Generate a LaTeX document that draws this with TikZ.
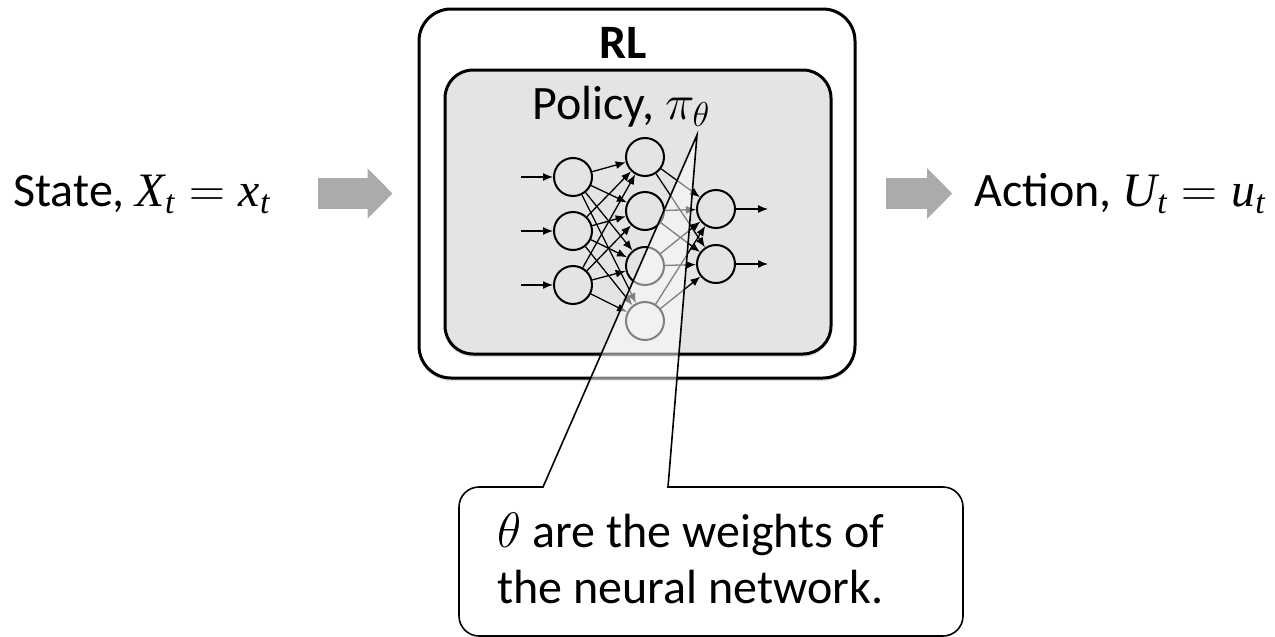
\documentclass[tikz,border=0pt]{standalone}
\usepackage{amsmath}
\usepackage{fontspec}
\setmainfont{Carlito}
\newfontfamily\serifit{Liberation Serif}
\newcommand\mv[1]{\text{\serifit\itshape #1}}
\usetikzlibrary{arrows.meta,shadows}
\definecolor{policyfill}{HTML}{E3E4E6}
\definecolor{blockgray}{HTML}{ABABAB}
\tikzset{
	label text/.style={inner sep=0pt,font=\fontsize{24}{28}\selectfont},
	frame/.style={draw,line width=1.5pt,inner sep=0pt,
		drop shadow={shadow xshift=0pt,shadow yshift=-1.5pt,opacity=0.25}},
	neuron/.style={circle,draw,line width=1pt,minimum size=19pt,inner sep=0pt},
	wire/.style={line width=0.65pt,-{Latex[length=5pt,width=4pt]}},
	blockarrow/.style={line width=15.5pt,draw=blockgray,
		-{Triangle[length=12.5pt,width=24.5pt]}},
	callout/.style={draw,line width=0.8pt,fill=white,fill opacity=0.5},
}
\begin{document}
\begin{tikzpicture}[x=0.5pt,y=-0.5pt]
\useasboundingbox (0,0) rectangle (1275,637);
% RL block
\node[frame,fill=white,rounded corners=16pt,minimum width=218pt,minimum height=184.5pt] (rl) at (637,193.5) {};
\node[frame,fill=policyfill,rounded corners=14pt,minimum width=193pt,minimum height=142pt] (policy) at (638,212) {};
\node[label text] (rltitle) at (623,43) {\textbf{RL}};
\node[label text,anchor=base west] (policytitle) at (532,119) {Policy, $\pi_\theta$};
% network
\foreach \i/\y in {1/177,2/231,3/285}
	\node[neuron] (in\i) at (573,\y) {};
\foreach \i/\y in {1/157,2/211,3/266,4/321}
	\node[neuron] (hid\i) at (645,\y) {};
\foreach \i/\y in {1/209,2/264}
	\node[neuron] (out\i) at (716,\y) {};
\foreach \i in {1,2,3} {
	\path (in\i.west) ++(-32,0) coordinate (src\i);
	\draw[wire] (src\i) -- (in\i);
	\foreach \j in {1,...,4}
		\draw[wire] (in\i) -- (hid\j);
}
\foreach \j in {1,...,4}
	\foreach \k in {1,2}
		\draw[wire] (hid\j) -- (out\k);
\foreach \k in {1,2} {
	\path (out\k.east) ++(32,0) coordinate (dst\k);
	\draw[wire] (out\k) -- (dst\k);
}
% inputs and outputs
\node[label text,anchor=base west] (state) at (13,206) {State, $\mv{X}_{\mv{t}} = \mv{x}_{\mv{t}}$};
\node[label text,anchor=base east] (action) at (1266,206) {Action, $\mv{U}_{\mv{t}} = \mv{u}_{\mv{t}}$};
\draw[blockarrow,shorten <=23.5pt,shorten >=12.5pt] (state.east |- rl.west) -- (rl.west);
\draw[blockarrow,shorten <=14.5pt,shorten >=11pt] (rl.east) -- (action.west |- rl.east);
% callout
\coordinate (tip) at (697,135);
\draw[callout] (668,487) [rounded corners=10pt] -- (963,487) -- (963,636) -- (459,636) -- (459,487) [sharp corners] -- (543,487) -- (tip) -- cycle;
\node[label text,anchor=north west,align=left] (note) at (497,513) {$\theta$ are the weights of\\the neural network.};
\end{tikzpicture}
\end{document}
